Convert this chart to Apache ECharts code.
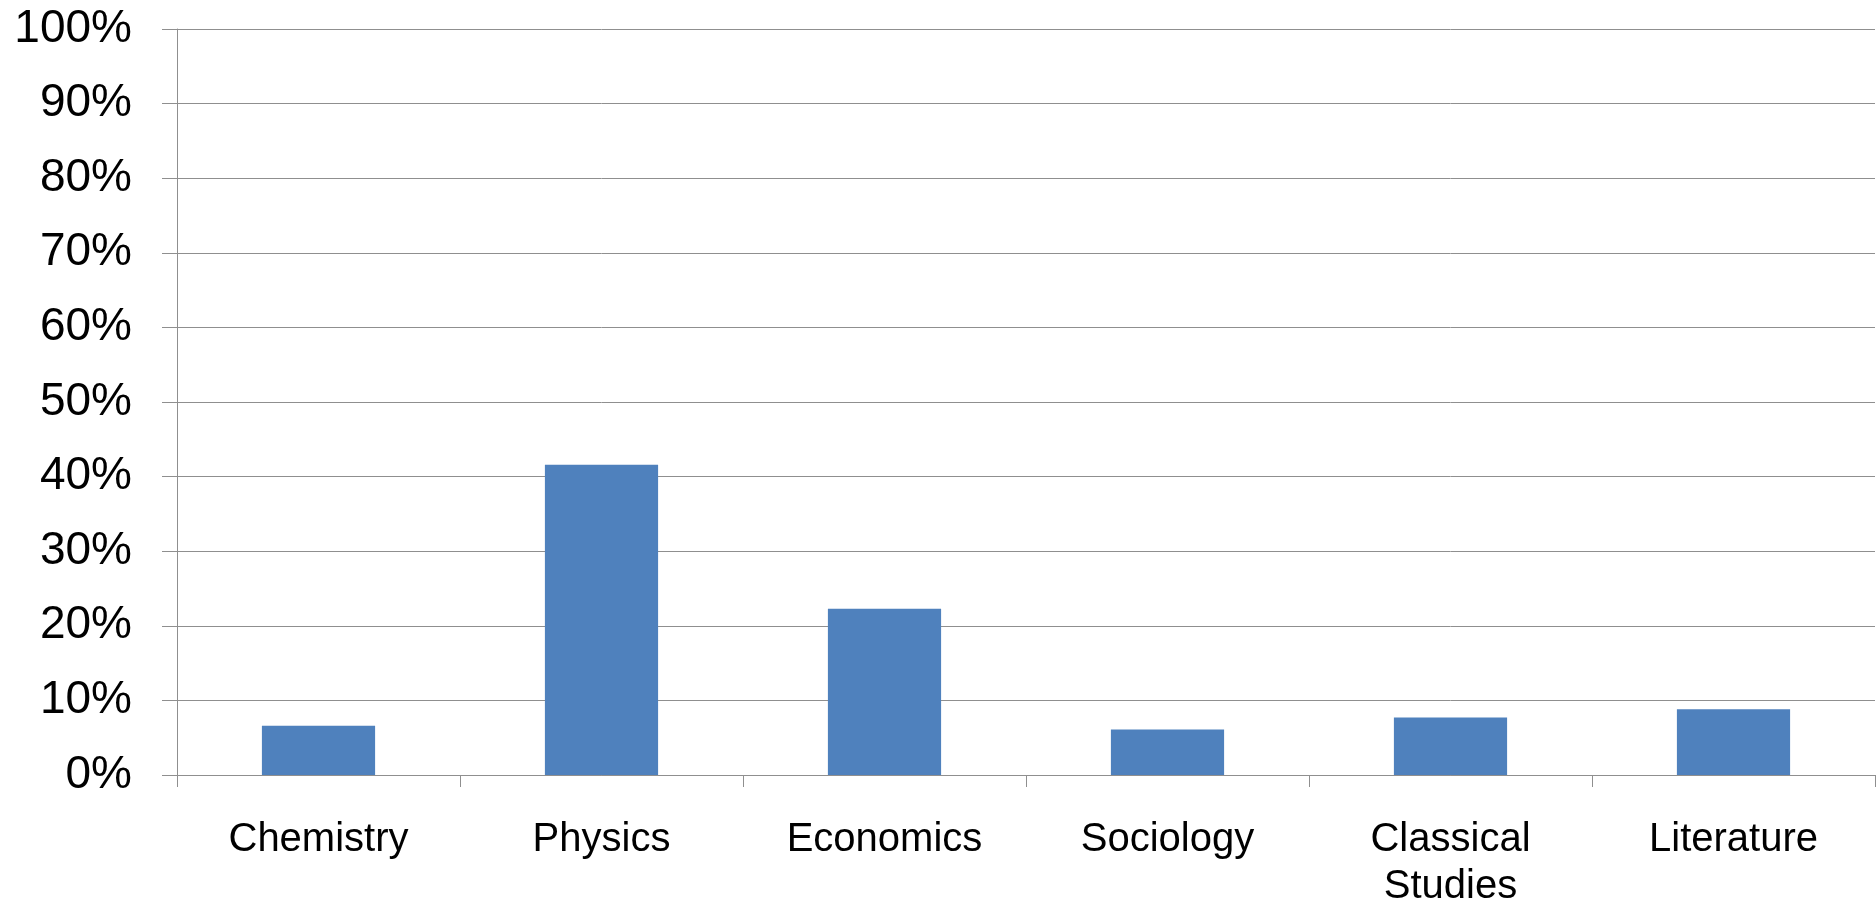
<!DOCTYPE html>
<html>
<head>
<meta charset="utf-8">
<title>Share by subject</title>
<script src="https://cdn.jsdelivr.net/npm/echarts@6/dist/echarts.min.js"></script>
<style>
  html, body { margin: 0; padding: 0; background: #fff; }
  #chart { width: 1876px; height: 904px; }
</style>
</head>
<body>
<div id="chart"></div>
<script>
// 学科类别
const subjects = ['Chemistry', 'Physics', 'Economics', 'Sociology', 'Classical Studies', 'Literature']
// 各学科占比 (%)
const shares = [6.6, 41.6, 22.3, 6.1, 7.7, 8.8]
// 纵轴刻度
const yMin = 0
const yMax = 100
const yStep = 10

const gridColor = '#8f8f8f'
const font = '"Liberation Sans", Arial, sans-serif'

const chart = echarts.init(document.getElementById('chart'))
chart.setOption({
  animation: false,
  grid: { left: 177, right: 1, top: 29, bottom: 129, outerBoundsMode: 'none' },
  xAxis: {
    type: 'category',
    data: subjects,
    axisLine: { show: true, lineStyle: { color: gridColor, width: 1 } },
    axisTick: { show: true, length: 12, lineStyle: { color: gridColor } },
    axisLabel: {
      color: '#000',
      fontFamily: font,
      fontSize: 40,
      lineHeight: 47,
      margin: 41,
      interval: 0,
      formatter: v => v.replace(' ', '\n')
    }
  },
  yAxis: {
    type: 'value',
    min: yMin,
    max: yMax,
    interval: yStep,
    axisLine: { show: true, lineStyle: { color: gridColor, width: 1 } },
    axisTick: { show: true, length: 15, lineStyle: { color: gridColor } },
    splitLine: { show: true, lineStyle: { color: gridColor, width: 1 } },
    axisLabel: {
      color: '#000',
      fontFamily: font,
      fontSize: 46,
      margin: 45,
      formatter: '{value}%'
    }
  },
  series: [
    {
      type: 'bar',
      data: shares,
      barWidth: '40%',
      itemStyle: { color: '#4f81bd' }
    }
  ]
})
</script>
</body>
</html>
